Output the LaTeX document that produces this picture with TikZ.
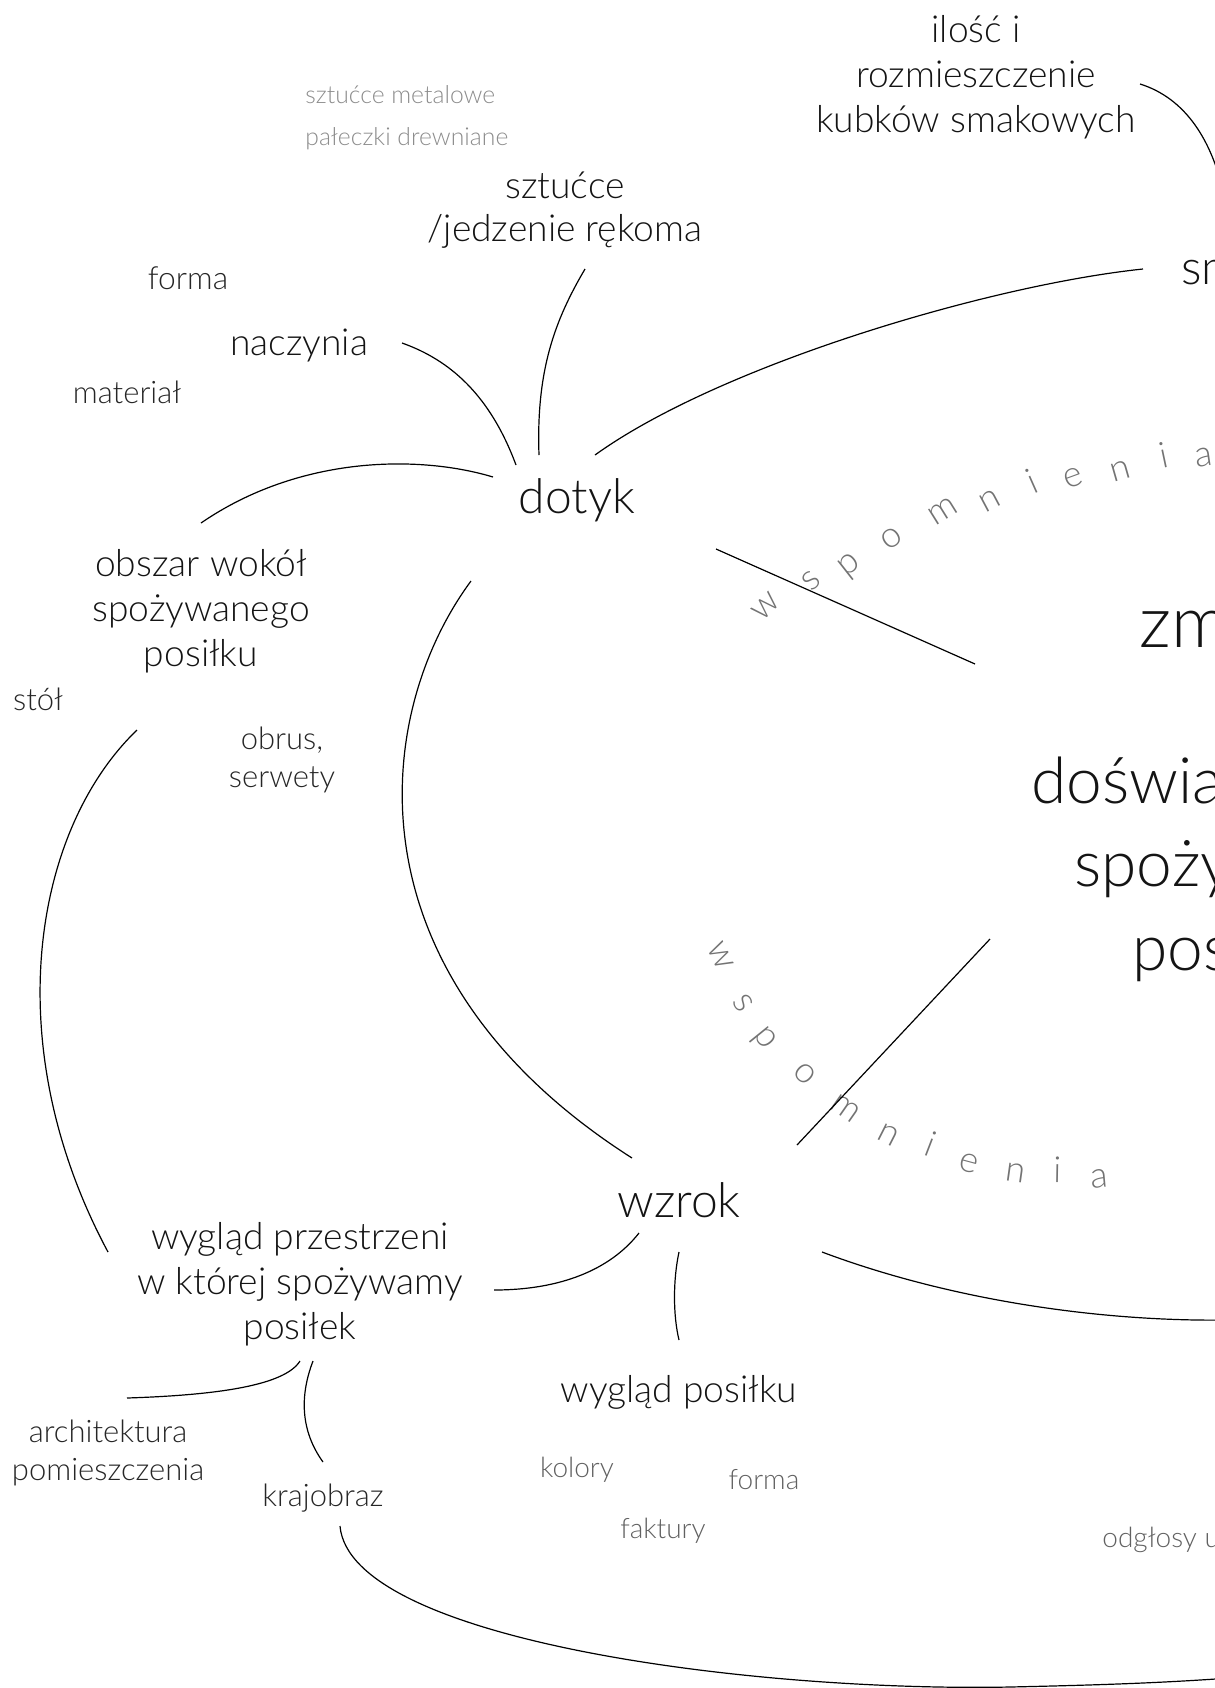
\documentclass[tikz,border=0pt]{standalone}
\usepackage{fontspec}
\setmainfont{Lato Light}
\begin{document}
\begin{tikzpicture}[x=0.5pt,y=-0.5pt,
  lab/.style={inner sep=0pt, align=center, text=black!92},
  one/.style={text height=0.75em, text depth=0.2em},
  sense/.style={lab, one, font=\fontsize{24}{28}\selectfont},
  second/.style={lab, font=\fontsize{18.6}{22.5}\selectfont},
  third/.style={lab, font=\fontsize{15.5}{19}\selectfont, text=black!85},
  faint/.style={lab, one, font=\fontsize{12.35}{14}\selectfont, text=black!45},
  soft/.style={lab, one, font=\fontsize{14}{16}\selectfont, text=black!62},
  core/.style={lab, one, anchor=west, font=\fontsize{32}{38}\selectfont},
  wsp/.style={inner sep=0pt, text height=0.5em, text depth=0pt, font=\fontsize{18}{20}\selectfont, text=black!55},
  conn/.style={line width=0.6pt, black}]
\useasboundingbox (0,0) rectangle (1215,1688);
\clip (0,0) rectangle (1215,1688);

% ---- text nodes ----
\node[second] (ilosc) at (976,77) {ilość i\\rozmieszczenie\\kubków smakowych};
\node[sense, anchor=west] (smak) at (1181,279) {sm};
\node[faint, anchor=west] (metal) at (305,98) {sztućce metalowe};
\node[faint, anchor=west] (paleczki) at (305,140) {pałeczki drewniane};
\node[second, font=\fontsize{18.6}{21.5}\selectfont] (sztucce) at (565,210) {sztućce\\/jedzenie rękoma};
\node[third, one, font=\fontsize{15.9}{19}\selectfont] (forma) at (188,284) {forma};
\node[second, one] (naczynia) at (299,349.5) {naczynia};
\node[third, one] (material) at (127,397.5) {materiał};
\node[sense] (dotyk) at (577,508) {dotyk};
\node[second] (obszar) at (201,611) {obszar wokół\\spożywanego\\posiłku};
\node[third, one] (stol) at (38,705) {stół};
\node[third] (obrus) at (282,760) {obrus,\\serwety};
\node[core, font=\fontsize{36}{40}\selectfont] (zm) at (1139,642) {zm};
\node[core] (doswia) at (1031,798) {doświa};
\node[core] (spozy) at (1074,881) {spoży};
\node[core] (pos) at (1132,965) {pos};
\node[sense] (wzrok) at (679,1212) {wzrok};
\node[second] (przestrzen) at (300,1284) {wygląd przestrzeni\\w której spożywamy\\posiłek};
\node[second, one] (wyglad) at (679,1397) {wygląd posiłku};
\node[third] (arch) at (108,1453) {architektura\\pomieszczenia};
\node[third, one] (kraj) at (323,1501) {krajobraz};
\node[soft] (kolory) at (577,1472) {kolory};
\node[soft] (forma2) at (764,1484) {forma};
\node[soft] (faktury) at (663,1533) {faktury};
\node[soft, anchor=west] (odglosy) at (1102,1542) {odgłosy u};

% ---- wspomnienia (upper arc) ----
\foreach \ch/\px/\py/\r [count=\i] in
 {w/769/609/45, s/814/584/42, p/851/567/38, o/894/542/35, m/945/515/32,
  n/992/504/28, i/1035/488/24, e/1075/482/20, n/1122/475/16, i/1165/463/12, a/1204/461/8}
 \node[wsp, rotate=\r] (up\i) at (\px,\py) {\ch};
% ---- wspomnienia (lower arc) ----
\foreach \ch/\px/\py/\r [count=\i] in
 {w/717/958/-64, s/740/1005/-57, p/763/1040/-51, o/802/1077/-43, m/843/1112/-35,
  n/887/1139/-27, i/928/1151/-21, e/968/1167/-15, n/1015/1177/-8, i/1058/1178/-1, a/1100/1183/5}
 \node[wsp, rotate=\r] (lo\i) at (\px,\py) {\ch};

% ---- connector ends ----
\coordinate (ilosc-e) at (1140,84);
\coordinate (ilosc-out) at (1225,200);
\coordinate (dotyk-ne) at (595,455);
\coordinate (smak-w) at (1143,269);
\coordinate (dotyk-n) at (539,455);
\coordinate (sztucce-s) at (585,269);
\coordinate (dotyk-nw) at (516,465);
\coordinate (naczynia-e) at (402,343);
\coordinate (dotyk-w) at (493,477);
\coordinate (obszar-n) at (201,523);
\coordinate (dotyk-sw) at (471,581);
\coordinate (wzrok-nw) at (632,1158);
\coordinate (dotyk-se) at (716,549);
\coordinate (core-nw) at (975,664);
\coordinate (wzrok-ne) at (797,1145);
\coordinate (core-sw) at (990,939);
\coordinate (wzrok-se) at (822,1252);
\coordinate (wzrok-out) at (1230,1320);
\coordinate (wzrok-sw) at (639,1233);
\coordinate (przestrzen-e) at (494,1290);
\coordinate (wzrok-s) at (679,1252);
\coordinate (wyglad-n) at (679,1340);
\coordinate (obszar-s) at (137,730);
\coordinate (przestrzen-nw) at (108,1252);
\coordinate (przestrzen-s1) at (300,1361);
\coordinate (arch-n) at (127,1398);
\coordinate (przestrzen-s2) at (313,1361);
\coordinate (kraj-n) at (323,1462);
\coordinate (kraj-s) at (340,1526);
\coordinate (bottom-out) at (1230,1678);

% ---- connectors ----
\draw[conn] (ilosc-e) .. controls (1185,98) and (1213,140) .. (ilosc-out);
\draw[conn] (dotyk-ne) .. controls (720,365) and (990,285) .. (smak-w);
\draw[conn] (dotyk-n) .. controls (536,370) and (555,320) .. (sztucce-s);
\draw[conn] (dotyk-nw) .. controls (490,395) and (450,360) .. (naczynia-e);
\draw[conn] (dotyk-w) .. controls (420,455) and (300,455) .. (obszar-n);
\draw[conn] (dotyk-sw) .. controls (372,715) and (345,975) .. (wzrok-nw);
\draw[conn] (dotyk-se) -- (core-nw);
\draw[conn] (wzrok-ne) -- (core-sw);
\draw[conn] (wzrok-se) .. controls (950,1300) and (1100,1322) .. (wzrok-out);
\draw[conn] (wzrok-sw) .. controls (610,1270) and (560,1290) .. (przestrzen-e);
\draw[conn] (wzrok-s) .. controls (673,1280) and (673,1315) .. (wyglad-n);
\draw[conn] (obszar-s) .. controls (33,830) and (-3,1045) .. (przestrzen-nw);
\draw[conn] (przestrzen-s1) .. controls (285,1385) and (220,1395) .. (arch-n);
\draw[conn] (przestrzen-s2) .. controls (300,1395) and (300,1430) .. (kraj-n);
\draw[conn] (kraj-s) .. controls (350,1640) and (750,1692) .. (1010,1687) .. controls (1100,1685) and (1160,1683) .. (bottom-out);
\end{tikzpicture}
\end{document}
